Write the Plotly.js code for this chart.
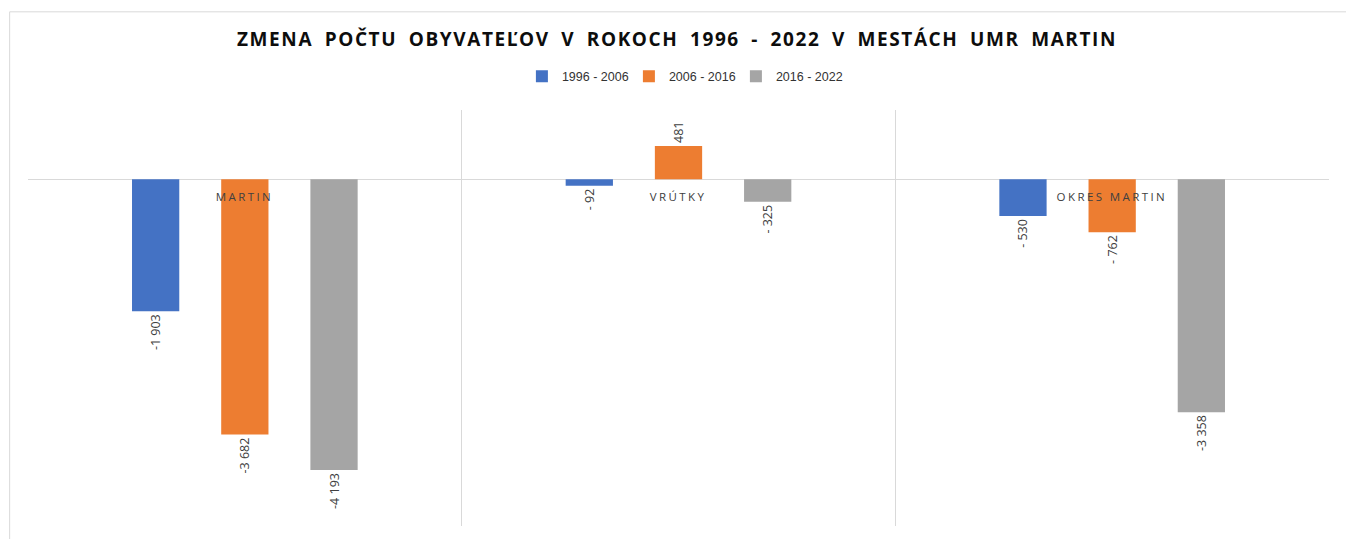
<!DOCTYPE html>
<html>
<head>
<meta charset="utf-8">
<script src="https://cdn.plot.ly/plotly-3.0.1.min.js"></script>
<style>
html,body{margin:0;padding:0;background:#fff;}
#chart{width:1346px;height:539px;}
#chart .gtitle{letter-spacing:1.6px;word-spacing:5px;}
#chart .annotation-text{letter-spacing:2.4px;}
</style>
</head>
<body>
<div id="chart"></div>
<script>
const categories = ["MARTIN", "VRÚTKY", "OKRES MARTIN"];
const seriesNames = ["1996 - 2006", "2006 - 2016", "2016 - 2022"];
const values1996_2006 = [-1903, -92, -530];
const values2006_2016 = [-3682, 481, -762];
const values2016_2022 = [-4193, -325, -3358];
const seriesColors = ["#4472c4", "#ed7d31", "#a5a5a5"];

function fmt(v){
  const a = Math.abs(v);
  const s = String(a).replace(/\B(?=(\d{3})+(?!\d))/g, " ");
  if (v < 0) return (a < 1000 ? "- " : "-") + s;
  return s;
}

const allVals = [values1996_2006, values2006_2016, values2016_2022];
const traces = allVals.map((vals, i) => ({
  type: "bar",
  name: seriesNames[i],
  x: categories,
  y: vals,
  marker: {color: seriesColors[i]},
  text: vals.map(fmt),
  textposition: "outside",
  textangle: -90,
  constraintext: "none",
  cliponaxis: false,
  textfont: {family: "Open Sans, Arial, sans-serif", size: 12.5, color: "#404040"},
  hoverinfo: "x+y"
}));

const annotations = categories.map(c => ({
  x: c, xref: "x", y: 0, yref: "y",
  text: c, showarrow: false,
  yanchor: "top", yshift: -8,
  font: {family: "Open Sans, Arial, sans-serif", size: 11.5, color: "#404040"}
}));

const layout = {
  width: 1346, height: 539,
  paper_bgcolor: "#ffffff", plot_bgcolor: "#ffffff",
  margin: {l: 28, r: 17, t: 110, b: 13},
  title: {
    text: "<b>ZMENA POČTU OBYVATEĽOV V ROKOCH 1996 - 2022 V MESTÁCH UMR MARTIN</b>",
    x: 0.503, xanchor: "center", y: 0.927, yanchor: "middle",
    font: {family: "Open Sans, Arial, sans-serif", size: 19, color: "#0d0d0d"}
  },
  showlegend: true,
  legend: {
    orientation: "h", x: 0.503, xanchor: "center", y: 1.08, yanchor: "middle",
    font: {family: "Liberation Sans Narrow, Arial Narrow, Arial, sans-serif", size: 12.5, color: "#333333"},
    itemwidth: 30, traceorder: "normal",
    entrywidth: 62, entrywidthmode: "pixels"
  },
  barmode: "group",
  bargap: 0.383,
  bargroupgap: 0.47,
  xaxis: {
    type: "category",
    range: [-0.5, 2.5],
    showticklabels: false,
    ticks: "",
    tickson: "boundaries",
    showgrid: true,
    gridcolor: "#d9d9d9",
    gridwidth: 1.5,
    showline: false,
    zeroline: false,
    fixedrange: true
  },
  yaxis: {
    range: [-5000, 1000],
    showgrid: false,
    showticklabels: false,
    zeroline: true,
    zerolinecolor: "#d9d9d9",
    zerolinewidth: 1.5,
    showline: false,
    fixedrange: true
  },
  annotations: annotations,
  shapes: [
    {type: "rect", xref: "paper", yref: "paper",
     x0: -0.0141, x1: 1.05, y0: -0.2, y1: 1.236,
     line: {color: "#d9d9d9", width: 1}, fillcolor: "rgba(0,0,0,0)", layer: "below"}
  ]
};

Plotly.newPlot("chart", traces, layout, {displayModeBar: false, staticPlot: true});
</script>
</body>
</html>
